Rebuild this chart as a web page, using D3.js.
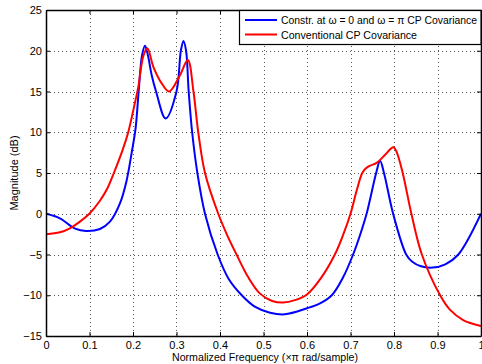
<!DOCTYPE html>
<html>
<head>
<meta charset="utf-8">
<script src="https://cdn.jsdelivr.net/npm/d3@7"></script>
<style>
  body { margin: 0; background: #fff; }
  text { font-family: "Liberation Sans", Arial, sans-serif; }
</style>
</head>
<body>
<div id="chart"></div>
<script>
// frequency (x pi rad/sample) and magnitude (dB)
const blueFreq = [0, 0.032, 0.067, 0.092, 0.124, 0.147, 0.170, 0.185, 0.197, 0.206, 0.213, 0.221, 0.2276, 0.234, 0.243, 0.253, 0.275, 0.300, 0.310, 0.316, 0.322, 0.328, 0.336, 0.348, 0.3655, 0.3946, 0.42, 0.45, 0.48, 0.515, 0.549, 0.60, 0.63, 0.657, 0.683, 0.706, 0.722, 0.737, 0.759, 0.768, 0.777, 0.798, 0.828, 0.842, 0.862, 0.889, 0.918, 0.948, 1.0];
const blueMag  = [0, -0.56, -1.83, -2.12, -1.87, -0.97, 1.28, 4.0, 7.5, 10.5, 15, 19.5, 20.6, 19.5, 17, 15, 11.7, 15, 20, 21.2, 20, 15, 10, 5, 0, -5, -8.0, -10, -11.4, -12.14, -12.34, -11.6, -11.0, -10, -7.8, -5, -2.6, 0, 5, 6.5, 5, 0, -5, -5.9, -6.45, -6.6, -6.2, -5, 0];

const redFreq = [0, 0.032, 0.055, 0.078, 0.0996, 0.124, 0.14, 0.156, 0.176, 0.189, 0.206, 0.212, 0.224, 0.233, 0.247, 0.266, 0.283, 0.308, 0.326, 0.339, 0.350, 0.3655, 0.396, 0.418, 0.438, 0.465, 0.492, 0.52, 0.545, 0.572, 0.60, 0.632, 0.664, 0.683, 0.70, 0.715, 0.727, 0.735, 0.745, 0.76, 0.779, 0.793, 0.799, 0.806, 0.82, 0.84, 0.864, 0.906, 0.929, 0.959, 1.0];
const redMag  = [-2.53, -2.28, -1.79, -0.97, 0, 1.6, 3.0, 5.0, 7.8, 10, 14, 15.5, 19.4, 20.3, 18, 16, 15, 17, 18.87, 15, 10, 5, 0, -2.8, -5, -7.8, -9.8, -10.7, -10.9, -10.6, -9.9, -7.9, -5, -2.6, 0, 3.0, 5, 5.55, 5.9, 6.25, 7.2, 8.0, 8.15, 7.6, 5, 0, -5, -10, -11.8, -13.04, -13.77];

const xTicks = [0, 0.1, 0.2, 0.3, 0.4, 0.5, 0.6, 0.7, 0.8, 0.9, 1];
const yTicks = [-15, -10, -5, 0, 5, 10, 15, 20, 25];
const seriesNames = ["Constr. at \u03c9 = 0 and \u03c9 = \u03c0 CP Covariance", "Conventional CP Covariance"];
const seriesColors = ["#0000ff", "#ff0000"];

const width = 482, height = 364;
const margin = { left: 46, right: 1, top: 10, bottom: 28 };

const svg = d3.select("#chart").append("svg")
  .attr("width", width)
  .attr("height", height);

const x = d3.scaleLinear().domain([0, 1]).range([margin.left, width - margin.right]);
const y = d3.scaleLinear().domain([-15, 25]).range([height - margin.bottom, margin.top]);

const fmt = d => d3.format("")(d).replace("-", "\u2212");

// grid
const grid = svg.append("g")
  .attr("stroke", "#555")
  .attr("stroke-width", 1)
  .attr("stroke-dasharray", "1,3")
  .attr("shape-rendering", "crispEdges");
grid.selectAll("line.vx").data(xTicks.slice(1, -1)).enter().append("line")
  .attr("x1", d => Math.round(x(d)) + 0.5).attr("x2", d => Math.round(x(d)) + 0.5)
  .attr("y1", y(25)).attr("y2", y(-15));
grid.selectAll("line.hy").data(yTicks.slice(1, -1)).enter().append("line")
  .attr("x1", x(0)).attr("x2", x(1))
  .attr("y1", d => Math.round(y(d)) + 0.5).attr("y2", d => Math.round(y(d)) + 0.5);

// curves
svg.append("clipPath").attr("id", "clip").append("rect")
  .attr("x", x(0)).attr("y", y(25))
  .attr("width", x(1) - x(0)).attr("height", y(-15) - y(25));

const line = d3.line()
  .x(d => x(d[0]))
  .y(d => y(d[1]))
  .curve(d3.curveCatmullRom.alpha(0.5));

const series = [d3.zip(blueFreq, blueMag), d3.zip(redFreq, redMag)];

svg.append("g").attr("clip-path", "url(#clip)")
  .selectAll("path").data(series).enter().append("path")
  .attr("d", line)
  .attr("fill", "none")
  .attr("stroke", (d, i) => seriesColors[i])
  .attr("stroke-width", 2);

// axes (box with inner ticks)
const tickLen = 4;
const axBottom = svg.append("g").attr("transform", `translate(0,${y(-15)})`)
  .call(d3.axisBottom(x).tickValues(xTicks).tickFormat(d3.format("")).tickSizeInner(-tickLen).tickSizeOuter(0).tickPadding(5));
const axTop = svg.append("g").attr("transform", `translate(0,${y(25)})`)
  .call(d3.axisTop(x).tickValues(xTicks).tickFormat("").tickSizeInner(-tickLen).tickSizeOuter(0));
const axLeft = svg.append("g").attr("transform", `translate(${x(0)},0)`)
  .call(d3.axisLeft(y).tickValues(yTicks).tickFormat(fmt).tickSizeInner(-tickLen).tickSizeOuter(0).tickPadding(4));
const axRight = svg.append("g").attr("transform", `translate(${x(1)},0)`)
  .call(d3.axisRight(y).tickValues(yTicks).tickFormat("").tickSizeInner(-tickLen).tickSizeOuter(0));

[axBottom, axTop, axLeft, axRight].forEach(g => {
  g.select(".domain").attr("stroke", "#000").attr("stroke-width", 1.5);
  g.selectAll(".tick line").attr("stroke", "#000");
  g.selectAll("text").attr("font-size", 11).attr("fill", "#000")
    .attr("font-family", "'Liberation Sans', Arial, sans-serif");
});

// axis labels
svg.append("text")
  .attr("x", 172)
  .attr("y", 361)
  .attr("font-size", 11)
  .attr("textLength", 186)
  .attr("lengthAdjust", "spacingAndGlyphs")
  .text("Normalized Frequency  (\u00d7\u03c0 rad/sample)");

svg.append("text")
  .attr("transform", `translate(18,${(y(25) + y(-15)) / 2}) rotate(-90)`)
  .attr("text-anchor", "middle")
  .attr("font-size", 11)
  .text("Magnitude (dB)");

// legend
const legend = svg.append("g");
legend.append("rect")
  .attr("x", 239.5).attr("y", 10.5)
  .attr("width", x(1) - 239.5).attr("height", 34)
  .attr("fill", "#fff").attr("stroke", "#000").attr("stroke-width", 1.2);

const legendWidths = [196, 136];
seriesNames.forEach((name, i) => {
  const ly = 20 + i * 14.5;
  legend.append("line")
    .attr("x1", 245).attr("x2", 277)
    .attr("y1", ly).attr("y2", ly)
    .attr("stroke", seriesColors[i]).attr("stroke-width", 2);
  legend.append("text")
    .attr("x", 281).attr("y", ly + 4)
    .attr("font-size", 11)
    .attr("textLength", legendWidths[i])
    .attr("lengthAdjust", "spacingAndGlyphs")
    .text(name);
});
</script>
</body>
</html>
